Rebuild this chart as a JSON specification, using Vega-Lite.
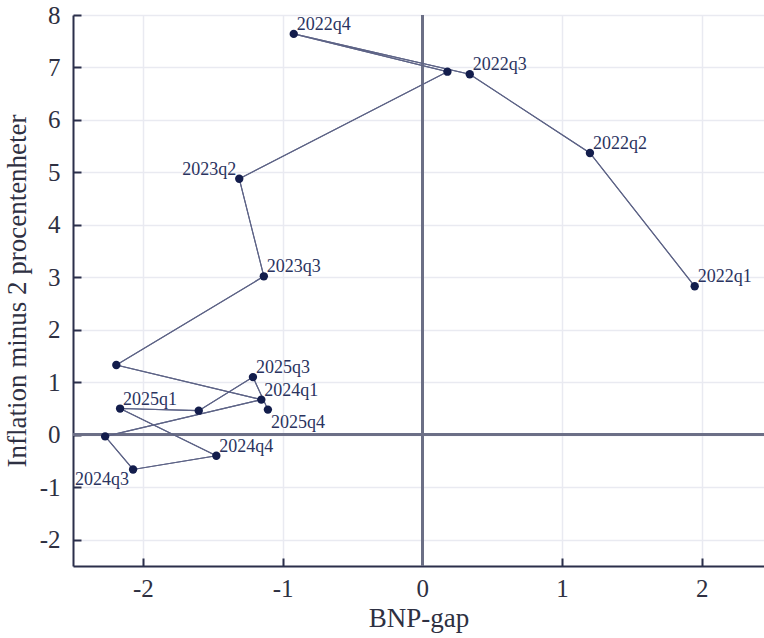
{
  "$schema": "https://vega.github.io/schema/vega-lite/v6.json",
  "width": 691,
  "height": 551,
  "autosize": "none",
  "padding": {"left": 73, "top": 15, "right": 0, "bottom": 72},
  "background": "white",
  "config": {
    "view": {"stroke": null},
    "font": "Liberation Serif",
    "axis": {
      "labelFont": "Liberation Serif",
      "titleFont": "Liberation Serif",
      "labelFontSize": 25,
      "titleFontSize": 27,
      "titleFontWeight": "normal",
      "labelColor": "#2e3042",
      "titleColor": "#2e3042",
      "domainColor": "#2b2f4b",
      "domainWidth": 2,
      "tickColor": "#2b2f4b",
      "tickWidth": 2,
      "tickSize": -8,
      "gridColor": "#e9eaf1",
      "gridWidth": 1.5
    }
  },
  "data": {
    "values": [
      {"kvartal": "2022q1", "gap": 1.95, "infl": 2.83},
      {"kvartal": "2022q2", "gap": 1.2, "infl": 5.37},
      {"kvartal": "2022q3", "gap": 0.34, "infl": 6.87},
      {"kvartal": "2022q4", "gap": -0.92, "infl": 7.64},
      {"kvartal": "2023q1", "gap": 0.18, "infl": 6.92},
      {"kvartal": "2023q2", "gap": -1.31, "infl": 4.88},
      {"kvartal": "2023q3", "gap": -1.134, "infl": 3.02},
      {"kvartal": "2023q4", "gap": -2.19, "infl": 1.33},
      {"kvartal": "2024q1", "gap": -1.152, "infl": 0.67},
      {"kvartal": "2024q2", "gap": -2.27, "infl": -0.03},
      {"kvartal": "2024q3", "gap": -2.07, "infl": -0.66},
      {"kvartal": "2024q4", "gap": -1.474, "infl": -0.4},
      {"kvartal": "2025q1", "gap": -2.163, "infl": 0.5},
      {"kvartal": "2025q2", "gap": -1.6, "infl": 0.46},
      {"kvartal": "2025q3", "gap": -1.212, "infl": 1.1},
      {"kvartal": "2025q4", "gap": -1.105, "infl": 0.48}
    ]
  },
  "layer": [
    {
      "mark": {"type": "line", "stroke": "#5d6386", "strokeWidth": 1.1},
      "encoding": {
        "x": {
          "field": "gap", "type": "quantitative",
          "scale": {"domain": [-2.5, 2.446], "nice": false, "zero": false},
          "axis": {"title": "BNP-gap", "values": [-2, -1, 0, 1, 2], "labelExpr": "toString(datum.value)", "labelPadding": 18, "titlePadding": 4}
        },
        "y": {
          "field": "infl", "type": "quantitative",
          "scale": {"domain": [-2.5, 8], "nice": false, "zero": false},
          "axis": {"title": "Inflation minus 2 procentenheter", "values": [-2, -1, 0, 1, 2, 3, 4, 5, 6, 7, 8], "labelExpr": "toString(datum.value)", "labelPadding": 21, "titlePadding": 8}
        },
        "order": {"field": "kvartal"}
      }
    },
    {
      "mark": {"type": "rule", "stroke": "#6c6f86", "strokeWidth": 2},
      "encoding": {"x": {"datum": 0}}
    },
    {
      "mark": {"type": "rule", "stroke": "#6c6f86", "strokeWidth": 2},
      "encoding": {"y": {"datum": 0}}
    },
    {
      "mark": {"type": "line", "stroke": "#5d6386", "strokeWidth": 1.1},
      "encoding": {
        "x": {"field": "gap", "type": "quantitative"},
        "y": {"field": "infl", "type": "quantitative"},
        "order": {"field": "kvartal"}
      }
    },
    {
      "mark": {"type": "circle", "size": 70, "color": "#131d4c", "opacity": 1},
      "encoding": {
        "x": {"field": "gap", "type": "quantitative"},
        "y": {"field": "infl", "type": "quantitative"}
      }
    },
    {
      "transform": [{"filter": {"field": "kvartal", "oneOf": ["2022q1", "2022q2", "2022q3", "2022q4", "2023q3", "2024q1", "2024q4", "2025q1", "2025q3"]}}],
      "mark": {"type": "text", "align": "left", "baseline": "alphabetic", "dx": 3, "dy": -4, "fontSize": 18, "color": "#2a3360", "font": "Liberation Serif"},
      "encoding": {
        "x": {"field": "gap", "type": "quantitative"},
        "y": {"field": "infl", "type": "quantitative"},
        "text": {"field": "kvartal"}
      }
    },
    {
      "transform": [{"filter": {"field": "kvartal", "oneOf": ["2023q2"]}}],
      "mark": {"type": "text", "align": "right", "baseline": "alphabetic", "dx": -3, "dy": -4, "fontSize": 18, "color": "#2a3360", "font": "Liberation Serif"},
      "encoding": {
        "x": {"field": "gap", "type": "quantitative"},
        "y": {"field": "infl", "type": "quantitative"},
        "text": {"field": "kvartal"}
      }
    },
    {
      "transform": [{"filter": {"field": "kvartal", "oneOf": ["2025q4"]}}],
      "mark": {"type": "text", "align": "left", "baseline": "alphabetic", "dx": 3, "dy": 18, "fontSize": 18, "color": "#2a3360", "font": "Liberation Serif"},
      "encoding": {
        "x": {"field": "gap", "type": "quantitative"},
        "y": {"field": "infl", "type": "quantitative"},
        "text": {"field": "kvartal"}
      }
    },
    {
      "transform": [{"filter": {"field": "kvartal", "oneOf": ["2024q3"]}}],
      "mark": {"type": "text", "align": "right", "baseline": "alphabetic", "dx": -4, "dy": 16, "fontSize": 18, "color": "#2a3360", "font": "Liberation Serif"},
      "encoding": {
        "x": {"field": "gap", "type": "quantitative"},
        "y": {"field": "infl", "type": "quantitative"},
        "text": {"field": "kvartal"}
      }
    }
  ]
}
